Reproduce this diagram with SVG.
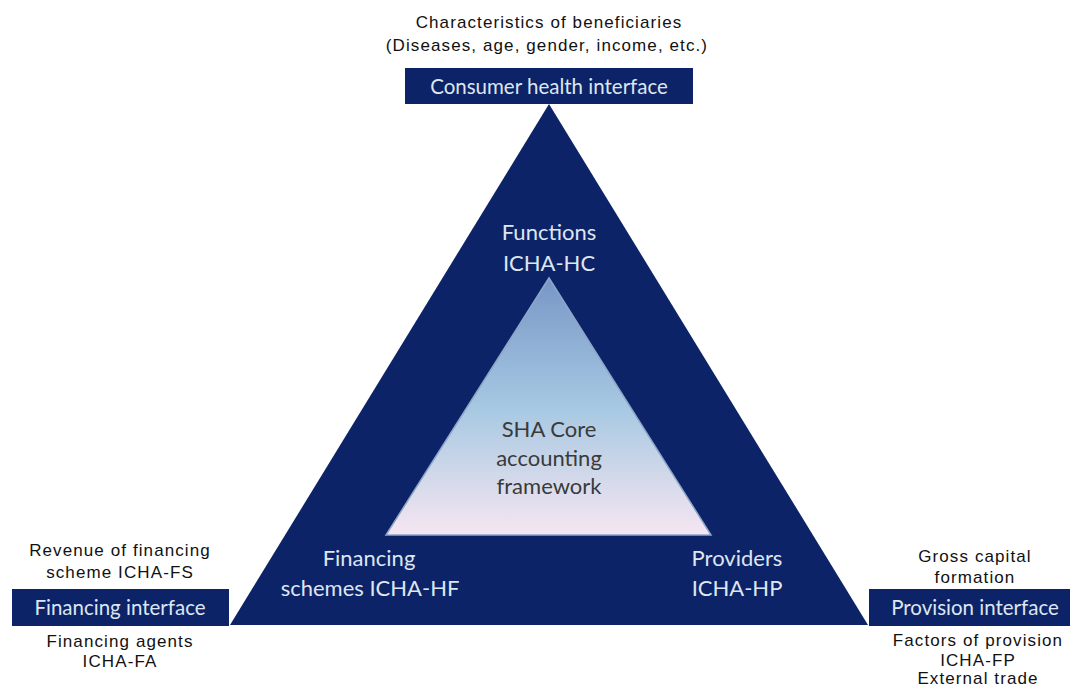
<svg xmlns="http://www.w3.org/2000/svg" width="1074" height="687" viewBox="0 0 1074 687">
  <defs>
    <linearGradient id="core" x1="0" y1="0" x2="0" y2="1">
      <stop offset="0" stop-color="#7896c6"/>
      <stop offset="0.5" stop-color="#a6c8e2"/>
      <stop offset="1" stop-color="#f6e6f1"/>
    </linearGradient>
    <style>
      .navy { fill: #0d2367; }
      .lbl { font-family: "Liberation Sans", Arial, sans-serif; font-size: 17px; letter-spacing: 1.1px; fill: #111111; text-anchor: middle; }
      .box { font-family: Lato, "Liberation Sans", sans-serif; font-size: 20.5px; fill: #dde6f2; text-anchor: middle; }
      .tri { font-family: Lato, "Liberation Sans", sans-serif; font-size: 22px; fill: #dde6f2; text-anchor: middle; }
      .core { font-family: Lato, "Liberation Sans", sans-serif; font-size: 22px; fill: #3a3a3a; text-anchor: middle; }
    </style>
  </defs>
  <rect width="1074" height="687" fill="#ffffff"/>

  <g id="triangle">
    <polygon class="navy" points="549,104 230,625 868,625"/>
    <text class="tri" x="549" y="240">Functions</text>
    <text class="tri" x="549" y="271">ICHA-HC</text>
    <text class="tri" x="369" y="566">Financing</text>
    <text class="tri" x="370" y="596">schemes ICHA-HF</text>
    <text class="tri" x="737" y="566">Providers</text>
    <text class="tri" x="737" y="596">ICHA-HP</text>
  </g>

  <g id="core-framework">
    <polygon points="549,278 386,535 711,535" fill="url(#core)" stroke="#8ea6c8" stroke-width="1.5"/>
    <text class="core" x="549" y="437">SHA Core</text>
    <text class="core" x="549" y="466">accounting</text>
    <text class="core" x="549" y="494">framework</text>
  </g>

  <g id="consumer-interface">
    <text class="lbl" x="549" y="28">Characteristics of beneficiaries</text>
    <text class="lbl" x="547" y="51">(Diseases, age, gender, income, etc.)</text>
    <rect class="navy" x="405" y="68" width="288" height="36"/>
    <text class="box" x="549" y="94">Consumer health interface</text>
  </g>

  <g id="financing-interface">
    <text class="lbl" x="120" y="556">Revenue of financing</text>
    <text class="lbl" x="120" y="578">scheme ICHA-FS</text>
    <rect class="navy" x="12" y="589" width="217" height="37"/>
    <text class="box" x="120" y="615">Financing interface</text>
    <text class="lbl" x="120" y="647">Financing agents</text>
    <text class="lbl" x="120" y="667">ICHA-FA</text>
  </g>

  <g id="provision-interface">
    <text class="lbl" x="975" y="562">Gross capital</text>
    <text class="lbl" x="975" y="583">formation</text>
    <rect class="navy" x="869" y="589" width="201" height="37"/>
    <text class="box" x="975" y="615">Provision interface</text>
    <text class="lbl" x="978" y="646">Factors of provision</text>
    <text class="lbl" x="978" y="666">ICHA-FP</text>
    <text class="lbl" x="978" y="684">External trade</text>
  </g>

  <g id="connectors"></g>
</svg>
